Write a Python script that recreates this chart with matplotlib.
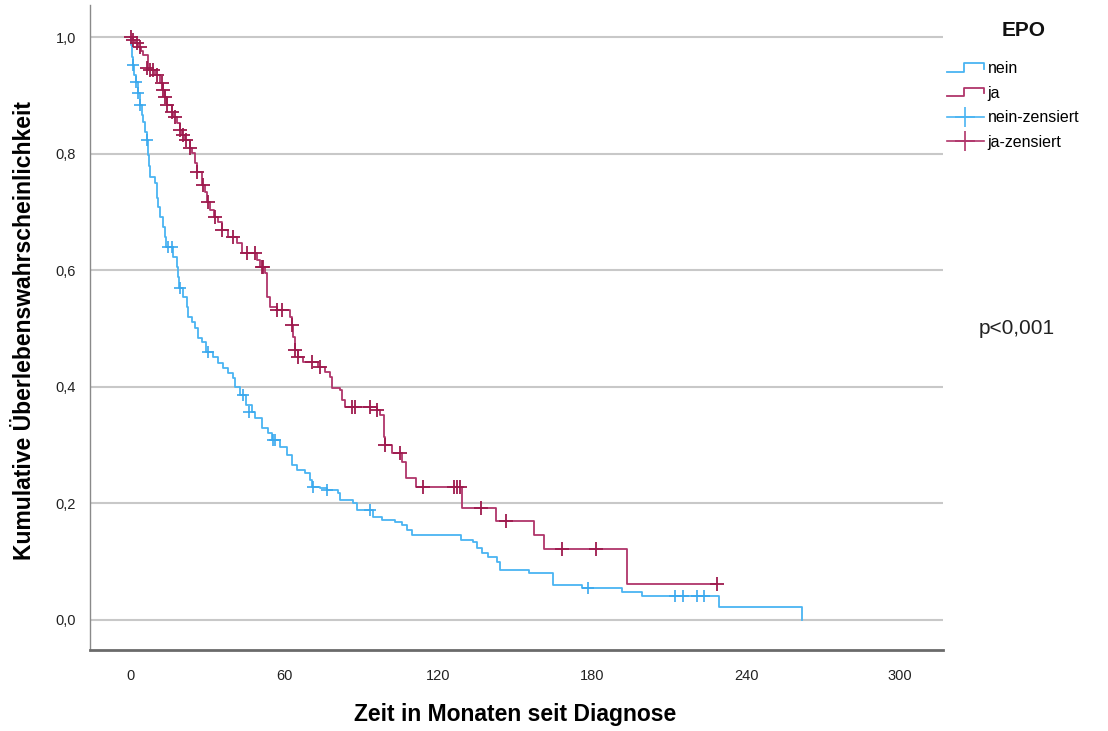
import matplotlib
matplotlib.use('Agg')
import matplotlib.pyplot as plt
from matplotlib.lines import Line2D
from matplotlib.legend_handler import HandlerBase
from matplotlib.ticker import FuncFormatter

# Kaplan-Meier steps (months, survival)
nein_t = [0, 0.4, 0.8, 1.2, 1.6, 2.3, 3.1, 3.9, 4.7, 5.1, 5.8, 6.6, 7.0, 7.4, 7.8,
          9.7, 10.5, 10.9, 11.7, 12.9, 13.6, 14.0, 16.8, 18.3, 18.7, 19.1, 20.6,
          22.2, 22.6, 24.2, 25.3, 26.5, 28.1, 29.6, 32.3, 34.3, 36.2, 38.2, 40.1,
          40.9, 42.9, 45.2, 47.5, 48.7, 51.4, 53.8, 55.3, 58.4, 61.2, 63.1, 65.1,
          68.2, 70.1, 70.9, 74.0, 76.8, 81.0, 81.8, 86.9, 88.4, 94.7, 98.2, 103.2,
          106.0, 107.9, 109.9, 129.0, 133.6, 135.2, 137.1, 139.5, 143.0, 144.2,
          155.4, 164.8, 176.1, 191.7, 199.5, 229.5, 261.8]
nein_s = [1.0, 0.986, 0.966, 0.952, 0.935, 0.923, 0.904, 0.883, 0.866, 0.854, 0.837,
          0.823, 0.798, 0.779, 0.760, 0.750, 0.724, 0.708, 0.691, 0.674, 0.657, 0.640,
          0.623, 0.605, 0.588, 0.569, 0.554, 0.537, 0.520, 0.511, 0.501, 0.484, 0.477,
          0.460, 0.451, 0.441, 0.432, 0.424, 0.415, 0.400, 0.386, 0.369, 0.357, 0.346,
          0.329, 0.321, 0.309, 0.297, 0.283, 0.266, 0.257, 0.252, 0.240, 0.228, 0.226,
          0.223, 0.218, 0.206, 0.201, 0.189, 0.177, 0.172, 0.168, 0.163, 0.154, 0.146,
          0.137, 0.134, 0.123, 0.115, 0.108, 0.099, 0.086, 0.081, 0.060, 0.055, 0.048,
          0.041, 0.022, 0.0]
nein_cens_t = [1.2, 2.3, 3.1, 3.9, 6.6, 14.8, 16.2, 19.5, 30.4, 44.0, 46.3, 55.7, 56.5,
               71.3, 76.8, 93.5, 178.4, 212.3, 215.4, 220.9, 223.6]
nein_cens_s = [0.952, 0.923, 0.904, 0.883, 0.823, 0.640, 0.640, 0.569, 0.460, 0.386,
               0.357, 0.309, 0.309, 0.228, 0.223, 0.189, 0.055, 0.041, 0.041, 0.041, 0.041]

ja_t = [0, 1.2, 1.9, 3.1, 4.3, 5.1, 7.0, 9.7, 11.7, 12.9, 13.6, 14.4, 16.4, 16.8, 18.3,
        19.5, 20.3, 21.4, 23.4, 24.2, 25.3, 26.1, 28.1, 29.2, 30.0, 31.2, 32.7, 34.3,
        35.8, 38.2, 41.7, 43.6, 49.5, 50.6, 52.6, 53.4, 54.5, 57.3, 62.3, 63.1, 63.5,
        64.3, 65.5, 67.4, 73.2, 76.0, 77.9, 78.7, 81.8, 82.6, 83.8, 96.2, 97.4, 99.0,
        99.3, 102.1, 106.0, 107.5, 111.4, 129.3, 142.6, 157.4, 161.3, 193.6, 228.7]
ja_s = [1.0, 0.995, 0.990, 0.983, 0.976, 0.969, 0.943, 0.935, 0.921, 0.909, 0.897, 0.883,
        0.871, 0.863, 0.852, 0.840, 0.832, 0.823, 0.810, 0.801, 0.784, 0.768, 0.746, 0.734,
        0.717, 0.703, 0.691, 0.683, 0.669, 0.657, 0.647, 0.630, 0.618, 0.605, 0.595, 0.554,
        0.537, 0.532, 0.520, 0.506, 0.485, 0.463, 0.451, 0.443, 0.434, 0.425, 0.417, 0.398,
        0.395, 0.377, 0.365, 0.360, 0.352, 0.314, 0.300, 0.286, 0.271, 0.244, 0.228, 0.192,
        0.170, 0.146, 0.122, 0.062, 0.062]
ja_cens_t = [0.3, 1.2, 2.7, 3.9, 6.6, 7.8, 9.0, 10.5, 12.5, 12.9, 13.6, 14.4, 16.4, 17.5,
             19.5, 20.6, 21.8, 23.4, 26.1, 28.4, 30.4, 33.1, 35.8, 40.1, 45.6, 48.7, 51.4,
             51.8, 57.3, 59.2, 63.1, 64.3, 65.5, 70.9, 74.0, 86.5, 87.7, 93.5, 96.2, 99.3,
             105.2, 114.2, 126.2, 127.4, 128.6, 136.7, 146.5, 168.3, 181.5, 228.7]
ja_cens_s = [1.0, 0.995, 0.990, 0.983, 0.947, 0.943, 0.943, 0.935, 0.921, 0.909, 0.897,
             0.883, 0.871, 0.863, 0.840, 0.832, 0.823, 0.810, 0.768, 0.746, 0.717, 0.691,
             0.669, 0.657, 0.630, 0.630, 0.605, 0.605, 0.532, 0.532, 0.506, 0.463, 0.451,
             0.443, 0.434, 0.365, 0.365, 0.365, 0.360, 0.300, 0.286, 0.228, 0.228, 0.228,
             0.228, 0.192, 0.170, 0.122, 0.122, 0.062]

x_ticks = [0, 60, 120, 180, 240, 300]
y_ticks = [0.0, 0.2, 0.4, 0.6, 0.8, 1.0]

blue = '#4ab4f2'
red = '#b0356a'
red_mark = '#9e1a4d'
blue_mark = '#3aa8ee'

plt.rcParams['font.family'] = ['Liberation Sans', 'DejaVu Sans']

fig = plt.figure(figsize=(11.08, 7.31), dpi=100, facecolor='white')
ax = fig.add_axes([90 / 1108, 1 - 650 / 731, 853 / 1108, 645 / 731])

for y in y_ticks:
    ax.axhline(y, color='#c8c8c8', linewidth=1.5, zorder=0)

ax.step(nein_t, nein_s, where='post', color=blue, linewidth=1.3, zorder=2)
ax.step(ja_t, ja_s, where='post', color=red, linewidth=1.3, zorder=3)
ax.plot(nein_cens_t, nein_cens_s, linestyle='none', marker='+', markersize=9,
        markeredgewidth=1.2, color=blue_mark, zorder=4)
ax.plot(ja_cens_t, ja_cens_s, linestyle='none', marker='+', markersize=9.5,
        markeredgewidth=1.3, color=red_mark, zorder=5)

ax.set_xlim(-15.6, 316.7)
ax.set_ylim(-0.0515, 1.055)
ax.set_xticks(x_ticks)
ax.set_yticks(y_ticks)
ax.yaxis.set_major_formatter(FuncFormatter(lambda v, p: f'{v:.1f}'.replace('.', ',')))
ax.tick_params(length=0, labelsize=10.5, colors='#222222', pad=10)
ax.tick_params(axis='x', pad=14)

for side in ['top', 'right']:
    ax.spines[side].set_visible(False)
ax.spines['left'].set_color('#8a8a8a')
ax.spines['bottom'].set_color('#6a6a6a')
ax.spines['bottom'].set_linewidth(2)
ax.spines['left'].set_linewidth(1)

fig.text(515 / 1108, 1 - 715 / 731, 'Zeit in Monaten seit Diagnose', ha='center', va='center',
         fontsize=16.5, fontweight='bold')
fig.text(25 / 1108, 1 - 330 / 731, 'Kumulative Überlebenswahrscheinlichkeit', ha='center',
         va='center', rotation=90, fontsize=16.5, fontweight='bold')
fig.text(1017 / 1108, 1 - 328 / 731, 'p<0,001', ha='center', va='center', fontsize=15,
         color='#222222')
fig.text(1024 / 1108, 1 - 30 / 731, 'EPO', ha='center', va='center', fontsize=15,
         fontweight='bold', color='#111111')


class StepHandler(HandlerBase):
    def create_artists(self, legend, orig_handle, xdescent, ydescent, width, height,
                       fontsize, trans):
        y0 = height * 0.1 - ydescent
        y1 = height * 0.9 - ydescent
        xs = [-xdescent, width * 0.45, width * 0.45, width, width]
        ys = [y0, y0, y1, y1, y0 + (y1 - y0) * 0.35]
        line = Line2D(xs, ys, color=orig_handle.get_color(), linewidth=1.3,
                      transform=trans)
        return [line]


h_nein = Line2D([], [], color=blue)
h_ja = Line2D([], [], color=red)
h_nein_c = Line2D([], [], color=blue, marker='+', markersize=15, markeredgewidth=1.2,
                  linewidth=1.2)
h_ja_c = Line2D([], [], color=red, marker='+', markersize=15, markeredgewidth=1.2,
                linewidth=1.2)

leg = fig.legend([h_nein, h_ja, h_nein_c, h_ja_c], ['nein', 'ja', 'nein-zensiert', 'ja-zensiert'],
                 handler_map={h_nein: StepHandler(), h_ja: StepHandler()},
                 loc='upper left', bbox_to_anchor=(947 / 1108, 1 - 61 / 731),
                 frameon=False, fontsize=11.5, handlelength=2.3, borderpad=0,
                 handletextpad=0.25, labelspacing=0.6, borderaxespad=0)

fig.savefig('out.png', dpi=100, facecolor='white')
